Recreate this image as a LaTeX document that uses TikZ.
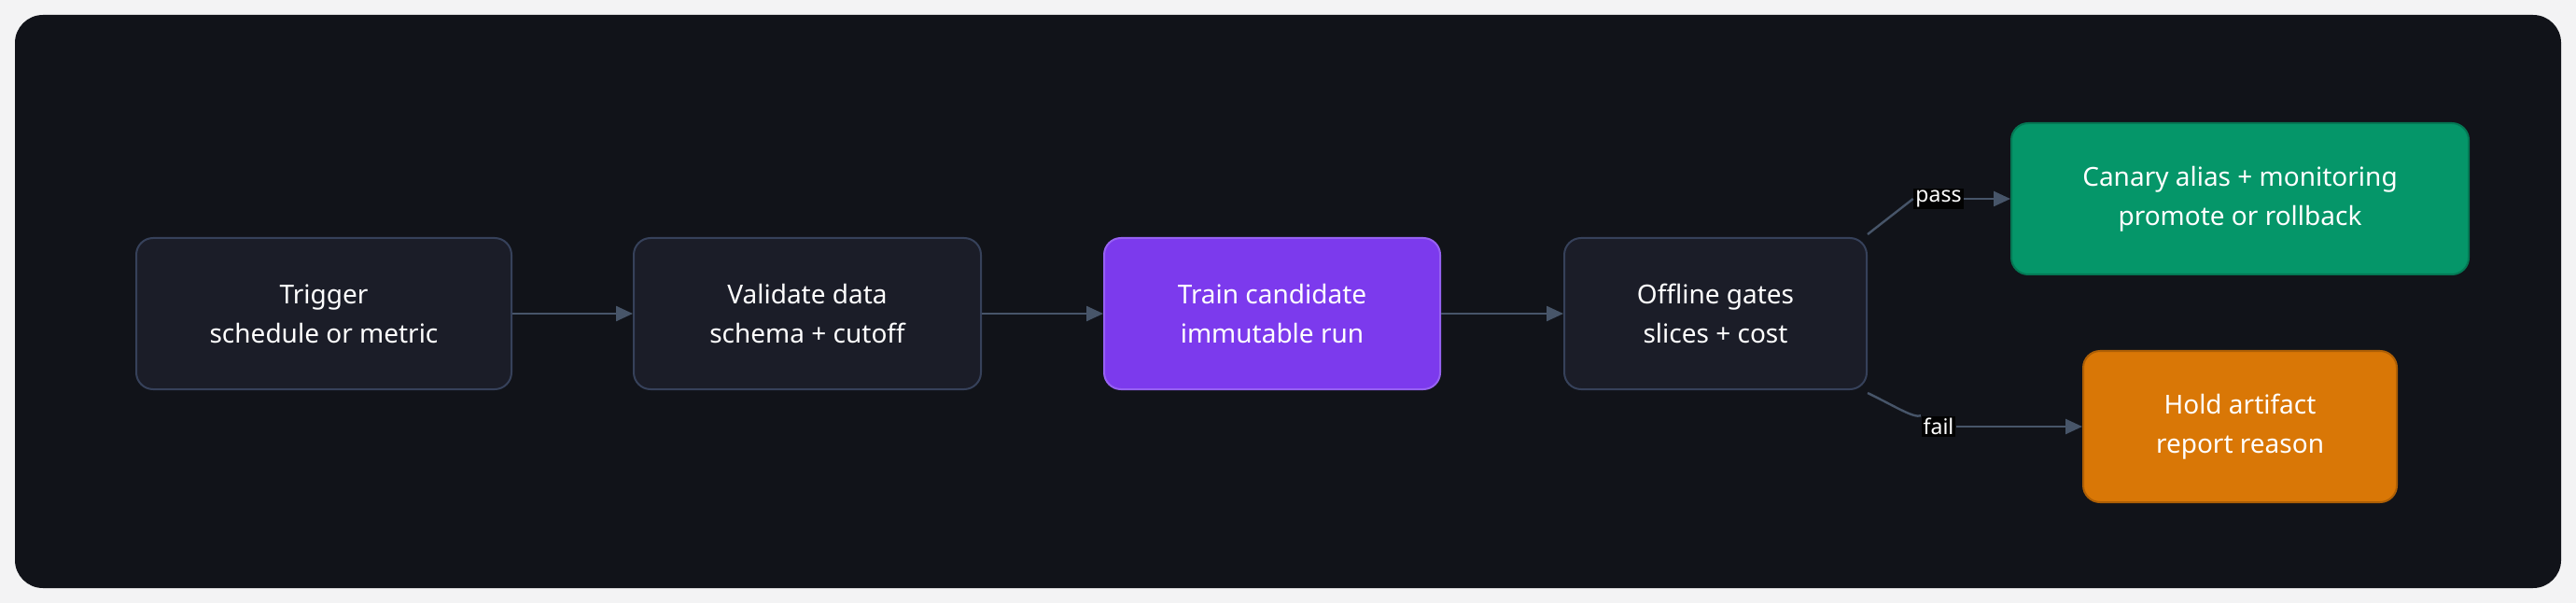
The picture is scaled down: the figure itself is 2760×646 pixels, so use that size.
\documentclass[tikz,border=0pt]{standalone}
\usepackage{fontspec}
\setmainfont{Noto Sans}
\usetikzlibrary{positioning,arrows.meta}
\definecolor{pagebg}{HTML}{F3F3F4}
\definecolor{panelbg}{HTML}{111319}
\definecolor{boxbg}{HTML}{1B1D28}
\definecolor{boxline}{HTML}{36415A}
\definecolor{edgeline}{HTML}{475569}
\definecolor{trainfill}{HTML}{7C3AED}
\definecolor{canaryfill}{HTML}{059669}
\definecolor{holdfill}{HTML}{D97706}
\tikzset{every picture/.style={line width=0.75pt}}
\tikzset{
  stage/.style={draw=boxline, fill=boxbg, rounded corners=9pt, text=white, align=center,
    font=\fontsize{14}{21}\selectfont, minimum height=81pt, line width=1pt},
  flow/.style={draw=edgeline, line width=1.2pt, -{Triangle[length=9pt,width=8pt]}},
  gatelabel/.style={fill=black!90!panelbg, text=white, font=\fontsize{11.5}{13}\selectfont, inner sep=1pt}
}
\begin{document}
\begin{tikzpicture}[x=0.5pt,y=0.5pt,yscale=-1]
\useasboundingbox (0,0) rectangle (2760,646);
\fill[pagebg] (0,0) rectangle (2760,646);
%dark panel
\fill[panelbg] (16,16) [rounded corners=15pt] rectangle (2744,630);

%stages
\node[stage, minimum width=201pt] (trigger) at (347,336) {Trigger\\schedule or metric};
\node[stage, minimum width=186pt] (validate) at (865,336) {Validate data\\schema + cutoff};
\node[stage, minimum width=180pt, fill=trainfill, draw=trainfill!80!white] (train) at (1363,336) {Train candidate\\immutable run};
\node[stage, minimum width=162pt] (gates) at (1838,336) {Offline gates\\slices + cost};
\node[stage, minimum width=245pt, fill=canaryfill, draw=canaryfill!80!black] (canary) at (2400,213) {Canary alias + monitoring\\promote or rollback};
\node[stage, minimum width=168pt, fill=holdfill, draw=holdfill!80!black] (hold) at (2400,457) {Hold artifact\\report reason};

%labels on branches
\node[gatelabel] (pass) at (2077,213) {pass};
\node[gatelabel] (fail) at (2077,457) {fail};

%connectors
\draw[flow] (trigger) -- (validate);
\draw[flow] (validate) -- (train);
\draw[flow] (train) -- (gates);
\draw[draw=edgeline, line width=1.2pt] (gates.north east) ++(0,-3) coordinate (g1) (g1) -- (pass.west);
\draw[flow] (pass.east) -- (canary.west);
\draw[draw=edgeline, line width=1.2pt] (gates.south east) ++(0,3) coordinate (g2) (g2) .. controls (2030,435) and (2050,448) .. (fail.north west);
\draw[flow] (fail.east) .. controls (2130,457) and (2180,457) .. (hold.west);

\end{tikzpicture}
\end{document}
